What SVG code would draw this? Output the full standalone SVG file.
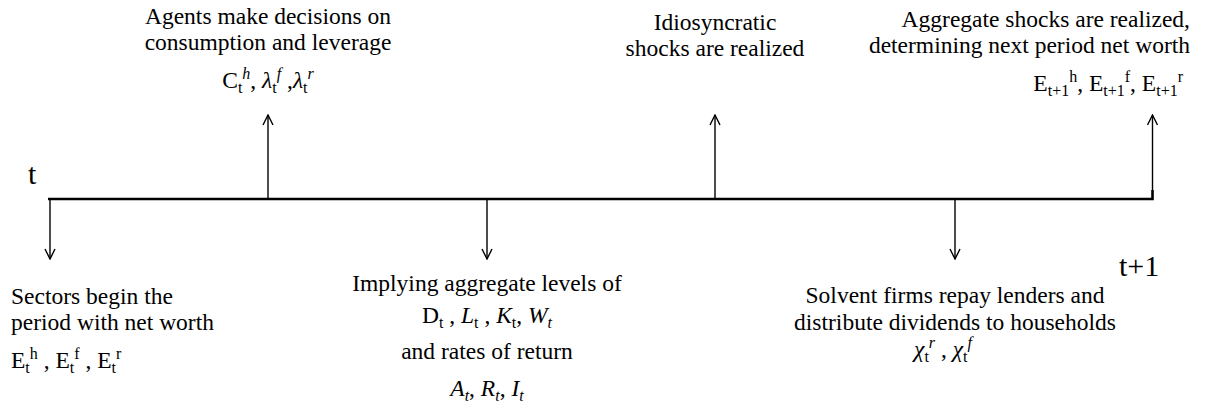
<svg xmlns="http://www.w3.org/2000/svg" width="1207" height="417" viewBox="0 0 1207 417">
<style>
text{font-family:"Liberation Serif","Times New Roman",serif;font-size:23.5px;fill:#000}
.big{font-size:30px}
.i{font-style:italic}
.sb{font-size:16px;baseline-shift:-5px}
.sp{font-size:16px;baseline-shift:9px}
.arr{stroke:#000;stroke-width:1.4;fill:none}
.axis{stroke:#000;stroke-width:2.5;fill:none}
</style>
<defs>
<marker id="ah" viewBox="0 0 12 12" refX="11" refY="6" markerWidth="12" markerHeight="12" markerUnits="userSpaceOnUse" orient="auto">
<path d="M1,1 L11,6 L1,11" fill="none" stroke="#000" stroke-width="1.4"/>
</marker>
</defs>
<g id="connectors">
<path class="axis" d="M48,199 H1152.5 V190"/>
<line class="arr" x1="1152.5" y1="199" x2="1152.5" y2="115" marker-end="url(#ah)"/>
<line class="arr" x1="50" y1="199" x2="50" y2="259" marker-end="url(#ah)"/>
<line class="arr" x1="268" y1="199" x2="268" y2="115" marker-end="url(#ah)"/>
<line class="arr" x1="487" y1="199" x2="487" y2="259" marker-end="url(#ah)"/>
<line class="arr" x1="715" y1="199" x2="715" y2="115" marker-end="url(#ah)"/>
<line class="arr" x1="955" y1="199" x2="955" y2="259" marker-end="url(#ah)"/>
</g>
<g id="label-t"><text class="big" x="28" y="184">t</text></g>
<g id="label-t1"><text class="big" x="1119" y="276">t+1</text></g>
<g id="node-agents">
<text x="268" y="24" text-anchor="middle">Agents make decisions on</text>
<text x="268" y="50" text-anchor="middle">consumption and leverage</text>
<text x="268" y="88" text-anchor="middle">C<tspan class="sb">t</tspan><tspan class="sp i">h</tspan>, <tspan class="i">λ</tspan><tspan class="sb">t</tspan><tspan class="sp i">f</tspan> ,<tspan class="i">λ</tspan><tspan class="sb">t</tspan><tspan class="sp i">r</tspan></text>
</g>
<g id="node-idio">
<text x="715" y="30" text-anchor="middle">Idiosyncratic</text>
<text x="715" y="56" text-anchor="middle">shocks are realized</text>
</g>
<g id="node-aggregate">
<text x="1190" y="27" text-anchor="end">Aggregate shocks are realized,</text>
<text x="1190" y="53" text-anchor="end">determining next period net worth</text>
<text x="1183" y="91" text-anchor="end">E<tspan class="sb">t+1</tspan><tspan class="sp">h</tspan>, E<tspan class="sb">t+1</tspan><tspan class="sp">f</tspan>, E<tspan class="sb">t+1</tspan><tspan class="sp">r</tspan></text>
</g>
<g id="node-sectors">
<text x="11" y="304">Sectors begin the</text>
<text x="11" y="330">period with net worth</text>
<text x="11" y="368">E<tspan class="sb">t</tspan><tspan class="sp">h</tspan> , E<tspan class="sb">t</tspan><tspan class="sp">f</tspan> , E<tspan class="sb">t</tspan><tspan class="sp">r</tspan></text>
</g>
<g id="node-implying">
<text x="487" y="291" text-anchor="middle">Implying aggregate levels of</text>
<text x="487" y="323" text-anchor="middle">D<tspan class="sb">t</tspan> , <tspan class="i">L</tspan><tspan class="sb">t</tspan> , <tspan class="i">K</tspan><tspan class="sb">t</tspan>, <tspan class="i">W</tspan><tspan class="sb i">t</tspan></text>
<text x="487" y="359" text-anchor="middle">and rates of return</text>
<text x="487" y="396" text-anchor="middle"><tspan class="i">A</tspan><tspan class="sb i">t</tspan>, <tspan class="i">R</tspan><tspan class="sb i">t</tspan>, <tspan class="i">I</tspan><tspan class="sb i">t</tspan></text>
</g>
<g id="node-solvent">
<text x="955" y="303" text-anchor="middle">Solvent firms repay lenders and</text>
<text x="955" y="330" text-anchor="middle">distribute dividends to households</text>
<text x="943" y="357" text-anchor="middle"><tspan class="i">χ</tspan><tspan class="sb">t</tspan><tspan class="sp i">r</tspan> , <tspan class="i">χ</tspan><tspan class="sb">t</tspan><tspan class="sp i">f</tspan></text>
</g>
</svg>
